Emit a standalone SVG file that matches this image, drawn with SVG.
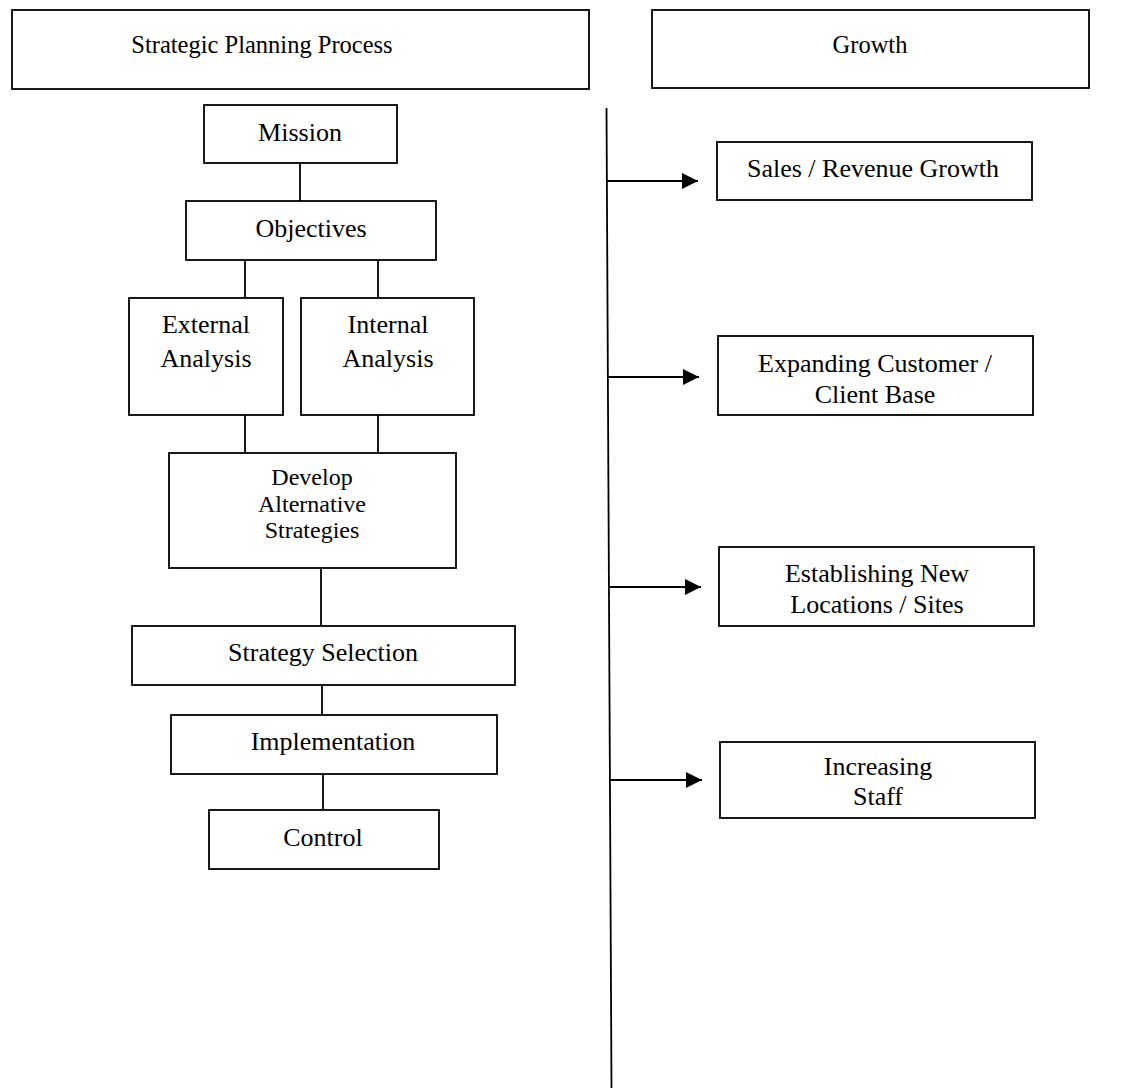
<svg xmlns="http://www.w3.org/2000/svg" width="1123" height="1091" viewBox="0 0 1123 1091">
<style>
rect.box{fill:#fff;stroke:#000;stroke-width:1.8}
text{font-family:"Liberation Serif","Times New Roman",serif;fill:#000;text-anchor:middle;font-size:26px}
text.t{font-size:24.5px}
text.s{font-size:24px}
.conn line{stroke:#000;stroke-width:1.8}
</style>
<defs>
<marker id="ah" viewBox="0 0 10 10" refX="10" refY="5" markerWidth="16" markerHeight="16" markerUnits="userSpaceOnUse" orient="auto">
<path d="M0,0 L10,5 L0,10 z" fill="#000"/>
</marker>
</defs>
<rect width="1123" height="1091" fill="#fff"/>
<g class="conn">
<line x1="300" y1="163" x2="300" y2="201"/>
<line x1="245" y1="260" x2="245" y2="298"/>
<line x1="378" y1="260" x2="378" y2="298"/>
<line x1="245" y1="415" x2="245" y2="453"/>
<line x1="378" y1="415" x2="378" y2="453"/>
<line x1="321" y1="568" x2="321" y2="626"/>
<line x1="322" y1="685" x2="322" y2="715"/>
<line x1="323" y1="774" x2="323" y2="810"/>
<line x1="606.5" y1="108" x2="611.5" y2="1088"/>
<line x1="607" y1="181" x2="698" y2="181" marker-end="url(#ah)"/>
<line x1="608" y1="377" x2="699" y2="377" marker-end="url(#ah)"/>
<line x1="609" y1="587" x2="701" y2="587" marker-end="url(#ah)"/>
<line x1="610" y1="780" x2="702" y2="780" marker-end="url(#ah)"/>
</g>
<g id="title-left"><rect class="box" x="12" y="10" width="577" height="79"/><text class="t" x="262" y="53">Strategic Planning Process</text></g>
<g id="title-right"><rect class="box" x="652" y="10" width="437" height="78"/><text class="t" x="870" y="53">Growth</text></g>
<g id="mission"><rect class="box" x="204" y="105" width="193" height="58"/><text x="300" y="141">Mission</text></g>
<g id="objectives"><rect class="box" x="186" y="201" width="250" height="59"/><text x="311" y="237">Objectives</text></g>
<g id="external"><rect class="box" x="129" y="298" width="154" height="117"/><text x="206" y="333">External</text><text x="206" y="367">Analysis</text></g>
<g id="internal"><rect class="box" x="301" y="298" width="173" height="117"/><text x="388" y="333">Internal</text><text x="388" y="367">Analysis</text></g>
<g id="develop"><rect class="box" x="169" y="453" width="287" height="115"/><text class="s" x="312" y="485">Develop</text><text class="s" x="312" y="512">Alternative</text><text class="s" x="312" y="538">Strategies</text></g>
<g id="selection"><rect class="box" x="132" y="626" width="383" height="59"/><text x="323" y="661">Strategy Selection</text></g>
<g id="implementation"><rect class="box" x="171" y="715" width="326" height="59"/><text x="333" y="750">Implementation</text></g>
<g id="control"><rect class="box" x="209" y="810" width="230" height="59"/><text x="323" y="846">Control</text></g>
<g id="sales"><rect class="box" x="717" y="142" width="315" height="58"/><text x="873" y="177">Sales / Revenue Growth</text></g>
<g id="customer"><rect class="box" x="718" y="336" width="315" height="79"/><text x="875" y="372">Expanding Customer /</text><text x="875" y="403">Client Base</text></g>
<g id="locations"><rect class="box" x="719" y="547" width="315" height="79"/><text x="877" y="582">Establishing New</text><text x="877" y="613">Locations / Sites</text></g>
<g id="staff"><rect class="box" x="720" y="742" width="315" height="76"/><text x="878" y="775">Increasing</text><text x="878" y="805">Staff</text></g>
</svg>
